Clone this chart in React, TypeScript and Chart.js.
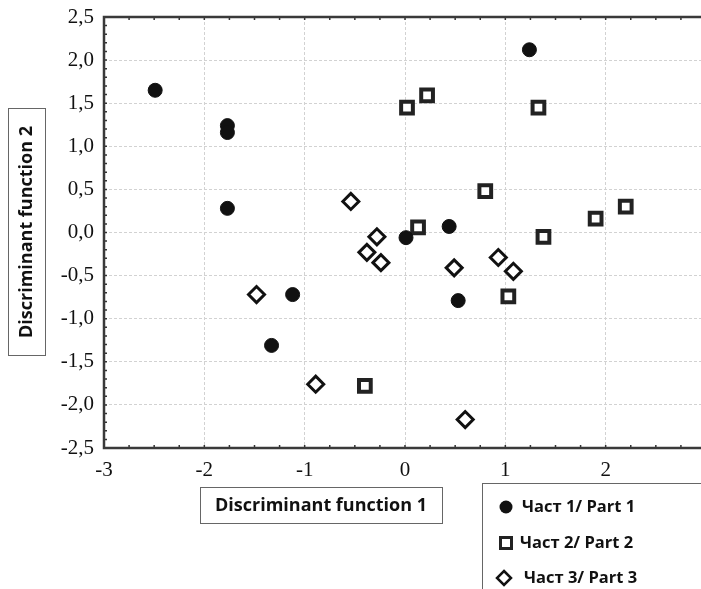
import React, { useEffect, useRef } from "react";
import { Chart, registerables } from "chart.js";

Chart.register(...registerables);

// ---- data ----
const part1X = [-2.49, -1.77, -1.77, -1.77, -1.12, -1.33, 0.01, 0.44, 0.53, 1.24];
const part1Y = [1.65, 1.24, 1.16, 0.28, -0.72, -1.31, -0.06, 0.07, -0.79, 2.12];

const part2X = [0.02, 0.22, 1.33, 0.8, 0.13, 1.38, 1.9, 2.2, 1.03, -0.4];
const part2Y = [1.45, 1.59, 1.45, 0.48, 0.06, -0.05, 0.16, 0.3, -0.74, -1.78];

const part3X = [-0.54, -0.28, -0.38, -0.24, -1.48, 0.49, 0.93, 1.08, -0.89, 0.6];
const part3Y = [0.36, -0.05, -0.23, -0.35, -0.72, -0.41, -0.29, -0.45, -1.76, -2.17];

const xTickValues = [-3, -2, -1, 0, 1, 2, 3];
const yTickValues = [-2.5, -2, -1.5, -1, -0.5, 0, 0.5, 1, 1.5, 2, 2.5];

const seriesLabels = ["Част 1/ Part 1", "Част 2/ Part 2", "Част 3/ Part 3"];
const xTitle = "Discriminant function 1";
const yTitle = "Discriminant function 2";

const toPoints = (xs: number[], ys: number[]) => xs.map((x, i) => ({ x, y: ys[i] }));

// plot frame (the right edge lies just past the visible canvas, as in the source)
const AREA = { left: 104, top: 17, right: 706, bottom: 448 };

const fixedAreaPlugin = {
  id: "fixedArea",
  afterLayout(chart: any) {
    const W = chart.width;
    const H = chart.height;
    const a = chart.chartArea;
    a.left = AREA.left;
    a.top = AREA.top;
    a.right = AREA.right;
    a.bottom = AREA.bottom;
    a.width = AREA.right - AREA.left;
    a.height = AREA.bottom - AREA.top;
    const xs = chart.scales.x;
    const ys = chart.scales.y;
    xs.left = AREA.left;
    xs.right = AREA.right;
    xs.top = AREA.bottom;
    xs.bottom = H;
    xs.width = AREA.right - AREA.left;
    xs.height = H - AREA.bottom;
    ys.left = 0;
    ys.right = AREA.left;
    ys.top = AREA.top;
    ys.bottom = AREA.bottom;
    ys.width = AREA.left;
    ys.height = AREA.bottom - AREA.top;
    xs.configure();
    ys.configure();
    void W;
  },
};

const decorPlugin = {
  id: "decor",
  afterDraw(chart: any) {
    const { ctx, chartArea } = chart;
    const { left, right, top, bottom } = chartArea;
    const xs = chart.scales.x;
    const ys = chart.scales.y;
    ctx.save();

    // minor ticks (inward)
    ctx.strokeStyle = "#333";
    ctx.lineWidth = 1.5;
    ctx.beginPath();
    for (let i = 0; i <= 24; i++) {
      const px = xs.getPixelForValue(xs.min + i * 0.25);
      ctx.moveTo(px, bottom);
      ctx.lineTo(px, bottom - 3);
      ctx.moveTo(px, top);
      ctx.lineTo(px, top + 3);
    }
    for (let i = 0; i <= 50; i++) {
      const py = ys.getPixelForValue(ys.min + i * 0.1);
      ctx.moveTo(left, py);
      ctx.lineTo(left + 3, py);
    }
    ctx.stroke();

    // frame
    ctx.strokeStyle = "#3a3a3a";
    ctx.lineWidth = 2.5;
    ctx.strokeRect(left, top, right - left, bottom - top);

    // axis title boxes
    ctx.strokeStyle = "#666";
    ctx.lineWidth = 1;
    ctx.fillStyle = "#111";
    ctx.font = "bold 18px 'Open Sans'";
    ctx.textAlign = "center";
    ctx.textBaseline = "middle";

    ctx.strokeRect(200.5, 487.5, 242, 36);
    ctx.fillText(xTitle, 321, 506);

    ctx.strokeRect(8.5, 108.5, 37, 247);
    ctx.save();
    ctx.translate(27, 232);
    ctx.rotate(-Math.PI / 2);
    ctx.fillText(yTitle, 0, 0);
    ctx.restore();

    // legend box
    ctx.strokeRect(482.5, 483.5, 260, 140);
    ctx.font = "bold 16.5px 'Open Sans'";
    ctx.textAlign = "left";
    const rows = [507, 543, 578];
    ctx.fillStyle = "#111";
    ctx.beginPath();
    ctx.arc(506, rows[0], 6.5, 0, Math.PI * 2);
    ctx.fill();
    ctx.strokeStyle = "#222";
    ctx.lineWidth = 3;
    ctx.strokeRect(500.5, rows[1] - 5.5, 11, 11);
    ctx.lineWidth = 2.5;
    ctx.strokeStyle = "#111";
    ctx.beginPath();
    ctx.moveTo(504, rows[2] - 7);
    ctx.lineTo(511, rows[2]);
    ctx.lineTo(504, rows[2] + 7);
    ctx.lineTo(497, rows[2]);
    ctx.closePath();
    ctx.stroke();

    ctx.fillStyle = "#111";
    ctx.fillText(seriesLabels[0], 522, rows[0]);
    ctx.fillText(seriesLabels[1], 520, rows[1]);
    ctx.fillText(seriesLabels[2], 524, rows[2]);

    ctx.restore();
  },
};

export default function App() {
  const canvasRef = useRef<HTMLCanvasElement | null>(null);

  useEffect(() => {
    if (!canvasRef.current) return;
    const chart = new Chart(canvasRef.current, {
      type: "scatter",
      data: {
        datasets: [
          {
            label: seriesLabels[0],
            data: toPoints(part1X, part1Y),
            pointStyle: "circle",
            pointRadius: 7,
            borderWidth: 1,
            backgroundColor: "#111",
            borderColor: "#111",
          },
          {
            label: seriesLabels[1],
            data: toPoints(part2X, part2Y),
            pointStyle: "rect",
            pointRadius: 8.3,
            borderWidth: 4,
            backgroundColor: "#fff",
            borderColor: "#222",
          },
          {
            label: seriesLabels[2],
            data: toPoints(part3X, part3Y),
            pointStyle: "rectRot",
            pointRadius: 8,
            borderWidth: 3,
            backgroundColor: "#fff",
            borderColor: "#111",
          },
        ],
      },
      options: {
        animation: false,
        responsive: false,
        maintainAspectRatio: false,
        devicePixelRatio: 1,
        layout: { padding: { left: 0, top: 17, right: 0, bottom: 0 } },
        plugins: {
          legend: { display: false },
          tooltip: { enabled: false },
        },
        scales: {
          x: {
            type: "linear",
            min: xTickValues[0],
            max: xTickValues[xTickValues.length - 1],
            afterBuildTicks: (axis: any) => {
              axis.ticks = xTickValues.map((v) => ({ value: v }));
            },
            ticks: {
              padding: 10,
              color: "#111",
              font: { family: "'Liberation Serif'", size: 21 },
              callback: (v: any) => String(v),
            },
            grid: { color: "#d2d2d2", lineWidth: 1, drawTicks: false },
            border: { display: false, dash: [3, 2] },
          },
          y: {
            type: "linear",
            min: yTickValues[0],
            max: yTickValues[yTickValues.length - 1],
            afterBuildTicks: (axis: any) => {
              axis.ticks = yTickValues.map((v) => ({ value: v }));
            },
            ticks: {
              padding: 10,
              color: "#111",
              font: { family: "'Liberation Serif'", size: 21 },
              callback: (v: any) => Number(v).toFixed(1).replace(".", ","),
            },
            grid: { color: "#d2d2d2", lineWidth: 1, drawTicks: false },
            border: { display: false, dash: [3, 2] },
          },
        },
      },
      plugins: [fixedAreaPlugin, decorPlugin],
    });
    return () => chart.destroy();
  }, []);

  return (
    <div
      style={{
        position: "fixed",
        left: 0,
        top: 0,
        width: 701,
        height: 589,
        overflow: "hidden",
        background: "#fff",
      }}
    >
      <canvas
        ref={canvasRef}
        width={701}
        height={589}
        style={{ display: "block", width: 701, height: 589 }}
      />
    </div>
  );
}
